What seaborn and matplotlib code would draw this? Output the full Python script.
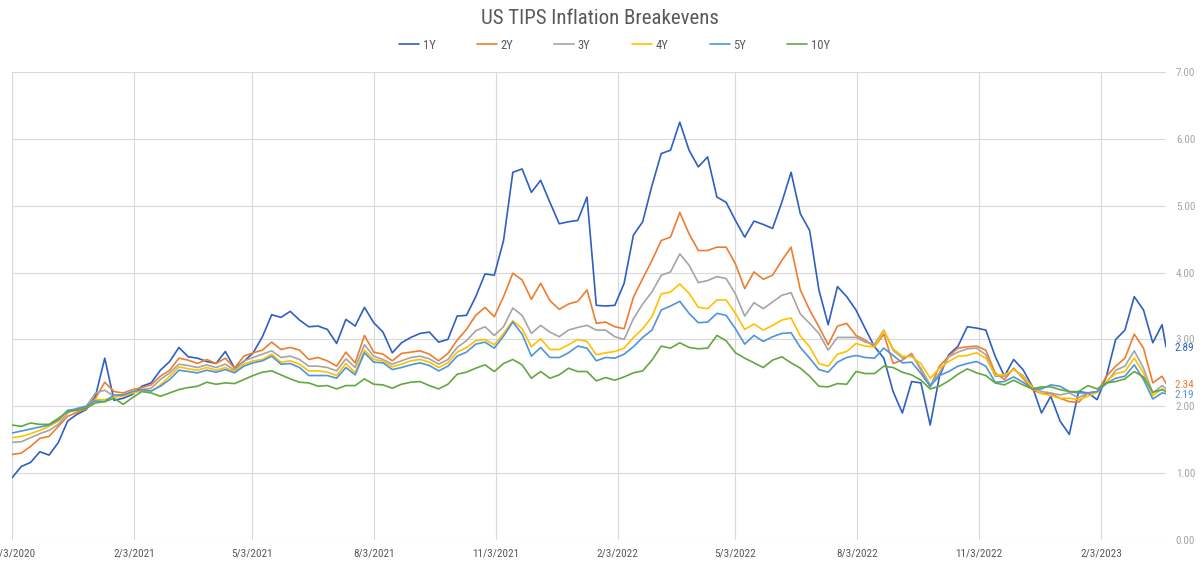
import numpy as np
import pandas as pd
import matplotlib.pyplot as plt
import seaborn as sns
from matplotlib import font_manager

# weekly readings, 3 Nov 2020 to 21 Mar 2023, plus the last print on 24 Mar 2023
dates = pd.date_range('2020-11-03', periods=125, freq='7D').append(pd.DatetimeIndex(['2023-03-24']))

be_1y = [0.93, 1.10, 1.16, 1.32, 1.27, 1.46, 1.78, 1.88, 1.95, 2.15,
         2.72, 2.09, 2.12, 2.18, 2.30, 2.35, 2.54, 2.67, 2.88, 2.74,
         2.72, 2.67, 2.64, 2.82, 2.57, 2.67, 2.80, 3.04, 3.37, 3.33,
         3.42, 3.29, 3.19, 3.20, 3.15, 2.94, 3.30, 3.20, 3.48, 3.25,
         3.11, 2.80, 2.95, 3.03, 3.09, 3.11, 2.96, 3.00, 3.35, 3.36,
         3.64, 3.98, 3.96, 4.48, 5.50, 5.55, 5.20, 5.38, 5.05, 4.73,
         4.76, 4.78, 5.13, 3.51, 3.50, 3.51, 3.84, 4.56, 4.76, 5.30,
         5.78, 5.83, 6.25, 5.83, 5.58, 5.73, 5.13, 5.05, 4.78, 4.53,
         4.77, 4.72, 4.66, 5.05, 5.50, 4.88, 4.63, 3.74, 3.22, 3.79,
         3.64, 3.44, 3.16, 2.89, 2.72, 2.22, 1.90, 2.37, 2.35, 1.72,
         2.45, 2.77, 2.90, 3.19, 3.17, 3.14, 2.75, 2.45, 2.70, 2.55,
         2.30, 1.90, 2.15, 1.78, 1.58, 2.22, 2.20, 2.10, 2.45, 3.00,
         3.14, 3.64, 3.44, 2.95, 3.22, 2.89]
be_2y = [1.28, 1.30, 1.40, 1.52, 1.55, 1.70, 1.85, 1.91, 1.96, 2.12,
         2.36, 2.22, 2.20, 2.25, 2.28, 2.32, 2.45, 2.54, 2.72, 2.69,
         2.64, 2.70, 2.64, 2.72, 2.57, 2.75, 2.80, 2.84, 2.96, 2.85,
         2.88, 2.84, 2.70, 2.73, 2.68, 2.60, 2.81, 2.65, 3.06, 2.81,
         2.78, 2.68, 2.79, 2.81, 2.83, 2.78, 2.68, 2.79, 2.99, 3.15,
         3.36, 3.48, 3.34, 3.64, 3.99, 3.89, 3.60, 3.84, 3.58, 3.45,
         3.53, 3.57, 3.74, 3.24, 3.26, 3.19, 3.16, 3.63, 3.91, 4.18,
         4.48, 4.53, 4.90, 4.58, 4.33, 4.33, 4.38, 4.38, 4.13, 3.76,
         4.01, 3.90, 3.96, 4.18, 4.38, 3.74, 3.44, 3.19, 2.92, 3.20,
         3.24, 3.06, 2.99, 2.89, 3.08, 2.64, 2.69, 2.79, 2.54, 2.29,
         2.60, 2.75, 2.87, 2.89, 2.90, 2.84, 2.50, 2.40, 2.57, 2.42,
         2.25, 2.19, 2.19, 2.12, 2.07, 2.06, 2.20, 2.21, 2.45, 2.60,
         2.72, 3.08, 2.87, 2.35, 2.45, 2.34]
be_3y = [1.46, 1.47, 1.53, 1.59, 1.64, 1.73, 1.90, 1.97, 2.00, 2.20,
         2.24, 2.15, 2.17, 2.21, 2.25, 2.27, 2.40, 2.50, 2.63, 2.61,
         2.58, 2.62, 2.58, 2.63, 2.54, 2.68, 2.73, 2.78, 2.83, 2.73,
         2.75, 2.70, 2.60, 2.60, 2.58, 2.53, 2.71, 2.58, 2.92, 2.75,
         2.70, 2.63, 2.68, 2.73, 2.75, 2.71, 2.63, 2.70, 2.88, 2.98,
         3.13, 3.19, 3.06, 3.19, 3.47, 3.36, 3.09, 3.21, 3.11, 3.04,
         3.14, 3.18, 3.21, 3.14, 3.14, 3.04, 3.00, 3.31, 3.53, 3.71,
         3.96, 4.01, 4.28, 4.11, 3.85, 3.88, 3.94, 3.91, 3.68, 3.35,
         3.55, 3.46, 3.56, 3.66, 3.70, 3.38, 3.24, 3.09, 2.84, 3.03,
         3.03, 3.03, 2.96, 2.93, 3.14, 2.84, 2.72, 2.77, 2.57, 2.32,
         2.50, 2.74, 2.81, 2.86, 2.87, 2.77, 2.45, 2.45, 2.55, 2.46,
         2.29, 2.22, 2.20, 2.17, 2.20, 2.13, 2.20, 2.22, 2.35, 2.54,
         2.60, 2.83, 2.57, 2.20, 2.31, 2.26]
be_4y = [1.53, 1.55, 1.59, 1.64, 1.70, 1.78, 1.93, 1.95, 1.98, 2.10,
         2.10, 2.14, 2.15, 2.20, 2.23, 2.22, 2.32, 2.45, 2.59, 2.56,
         2.54, 2.58, 2.54, 2.58, 2.52, 2.63, 2.68, 2.70, 2.78, 2.66,
         2.68, 2.63, 2.53, 2.53, 2.51, 2.46, 2.64, 2.50, 2.84, 2.70,
         2.68, 2.59, 2.63, 2.68, 2.70, 2.66, 2.58, 2.65, 2.81, 2.88,
         2.98, 3.00, 2.92, 3.09, 3.28, 3.16, 2.89, 3.01, 2.85, 2.85,
         2.92, 3.00, 2.97, 2.77, 2.80, 2.82, 2.87, 3.03, 3.16, 3.34,
         3.68, 3.71, 3.83, 3.69, 3.48, 3.46, 3.59, 3.59, 3.39, 3.15,
         3.23, 3.14, 3.21, 3.29, 3.32, 3.05, 2.89, 2.64, 2.60, 2.78,
         2.82, 2.94, 2.90, 2.89, 3.13, 2.86, 2.75, 2.74, 2.64, 2.42,
         2.57, 2.67, 2.75, 2.76, 2.80, 2.72, 2.47, 2.47, 2.55, 2.44,
         2.29, 2.19, 2.16, 2.12, 2.12, 2.10, 2.15, 2.21, 2.37, 2.49,
         2.52, 2.72, 2.50, 2.16, 2.26, 2.22]
be_5y = [1.60, 1.63, 1.66, 1.69, 1.72, 1.80, 1.94, 1.96, 2.00, 2.08,
         2.07, 2.17, 2.17, 2.22, 2.25, 2.23, 2.30, 2.40, 2.54, 2.52,
         2.50, 2.54, 2.51, 2.55, 2.50, 2.60, 2.65, 2.68, 2.75, 2.63,
         2.64, 2.58, 2.46, 2.46, 2.46, 2.42, 2.58, 2.47, 2.80, 2.66,
         2.65, 2.55, 2.58, 2.62, 2.65, 2.61, 2.53, 2.60, 2.75, 2.81,
         2.93, 2.96, 2.87, 3.05, 3.26, 3.08, 2.75, 2.88, 2.73, 2.73,
         2.80, 2.90, 2.87, 2.68, 2.73, 2.72, 2.78, 2.89, 3.03, 3.14,
         3.44, 3.50, 3.57, 3.39, 3.25, 3.26, 3.39, 3.36, 3.16, 2.93,
         3.06, 2.97, 3.04, 3.09, 3.10, 2.88, 2.72, 2.55, 2.51, 2.66,
         2.73, 2.76, 2.73, 2.72, 2.87, 2.76, 2.65, 2.66, 2.49, 2.30,
         2.46, 2.52, 2.60, 2.64, 2.67, 2.60, 2.36, 2.37, 2.44, 2.36,
         2.26, 2.26, 2.32, 2.30, 2.22, 2.20, 2.20, 2.22, 2.34, 2.42,
         2.45, 2.62, 2.40, 2.11, 2.20, 2.19]
be_10y = [1.72, 1.70, 1.75, 1.73, 1.73, 1.82, 1.92, 1.94, 1.97, 2.05,
          2.07, 2.12, 2.03, 2.13, 2.22, 2.20, 2.15, 2.20, 2.25, 2.28,
          2.30, 2.36, 2.33, 2.35, 2.34, 2.40, 2.46, 2.51, 2.53, 2.47,
          2.41, 2.36, 2.35, 2.30, 2.31, 2.26, 2.31, 2.31, 2.41, 2.33,
          2.32, 2.27, 2.33, 2.36, 2.37, 2.31, 2.26, 2.33, 2.48, 2.51,
          2.57, 2.62, 2.52, 2.64, 2.70, 2.62, 2.42, 2.52, 2.42, 2.47,
          2.57, 2.52, 2.52, 2.38, 2.43, 2.39, 2.44, 2.50, 2.53, 2.69,
          2.90, 2.87, 2.95, 2.88, 2.86, 2.87, 3.06, 2.98, 2.80, 2.72,
          2.65, 2.58, 2.69, 2.74, 2.65, 2.57, 2.45, 2.30, 2.29, 2.34,
          2.33, 2.52, 2.49, 2.49, 2.60, 2.58, 2.51, 2.47, 2.39, 2.26,
          2.30, 2.38, 2.48, 2.56, 2.50, 2.46, 2.35, 2.32, 2.39, 2.32,
          2.26, 2.29, 2.29, 2.25, 2.22, 2.22, 2.31, 2.26, 2.35, 2.37,
          2.41, 2.52, 2.44, 2.21, 2.25, 2.22]

tenors = ['1Y', '2Y', '3Y', '4Y', '5Y', '10Y']
colors = ['#2E5FC1', '#ED7D31', '#A5A5A5', '#FFC000', '#4E95D9', '#62A83F']
tick_labels = ['11/3/2020', '2/3/2021', '5/3/2021', '8/3/2021', '11/3/2021',
               '2/3/2022', '5/3/2022', '8/3/2022', '11/3/2022', '2/3/2023']
end_labels = {'1Y': '2.89', '2Y': '2.34', '5Y': '2.19'}

wide = pd.DataFrame({'date': dates, '1Y': be_1y, '2Y': be_2y, '3Y': be_3y,
                     '4Y': be_4y, '5Y': be_5y, '10Y': be_10y})
df = wide.melt(id_vars='date', var_name='tenor', value_name='rate')
palette = dict(zip(tenors, colors))

sns.set_style('white')
installed = {f.name for f in font_manager.fontManager.ttflist}
family = next((f for f in ['Roboto Condensed', 'Liberation Sans Narrow', 'Roboto'] if f in installed), 'DejaVu Sans')
plt.rcParams['font.family'] = [family, 'DejaVu Sans']

fig = plt.figure(figsize=(12, 5.66), dpi=100)
ax = fig.add_axes([0.01, 0.0459, 0.9617, 0.8269])
sns.lineplot(data=df, x='date', y='rate', hue='tenor', hue_order=tenors,
             palette=palette, linewidth=1.2, ax=ax)

ax.set_xlim(pd.Timestamp('2020-11-03'), pd.Timestamp('2023-03-24'))
ax.set_ylim(0, 7)
ax.set_xticks(pd.to_datetime(tick_labels, format='%m/%d/%Y'))
ax.set_xticklabels(tick_labels)
ax.yaxis.tick_right()
ax.set_yticks(np.arange(0, 8))
ax.set_yticklabels([f'{v:.2f}' for v in np.arange(0, 8)])
ax.grid(True, color='#D9D9D9', linewidth=0.8)
for s in ax.spines.values():
    s.set_visible(False)
ax.tick_params(axis='x', length=3, color='#D9D9D9', labelsize=8, labelcolor='#595959', pad=3)
ax.tick_params(axis='y', length=0, labelsize=8, labelcolor='#A6A6A6', pad=7)
ax.set_xlabel('')
ax.set_ylabel('')

# end-of-series labels
for name, text in end_labels.items():
    ax.annotate(text, xy=(dates[-1], wide[name].iloc[-1]), xytext=(6, -1),
                textcoords='offset points', color=palette[name], fontsize=8,
                va='center', ha='left', annotation_clip=False)

fig.text(0.5, 0.968, 'US TIPS Inflation Breakevens', ha='center', va='center',
         fontsize=15, color='#595959')
sns.move_legend(ax, 'center', bbox_to_anchor=(0.512, 0.920), bbox_transform=fig.transFigure,
                ncol=6, frameon=False, title=None, fontsize=9, labelcolor='#595959',
                handlelength=1.6, handletextpad=0.3, columnspacing=3.3)

fig.savefig('out.png', dpi=100)
